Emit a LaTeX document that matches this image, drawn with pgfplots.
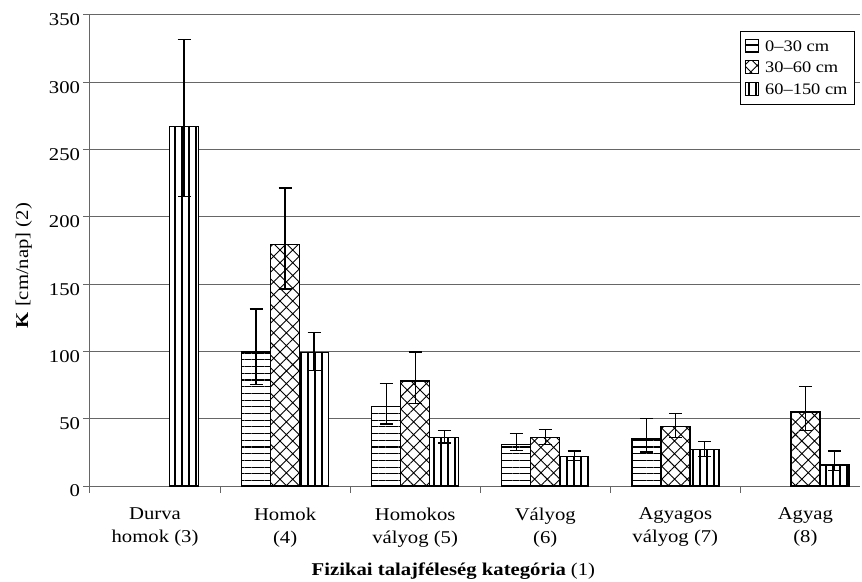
\documentclass[border=0pt]{standalone}
\usepackage{fontspec}
\setmainfont{Liberation Serif}[FakeStretch=1.15]
\usepackage{pgfplots}
\pgfplotsset{compat=1.18}
\usetikzlibrary{patterns.meta}

\pgfplotsset{
  errs/.style={
    error bars/.cd, y dir=both, y explicit,
    error bar style={draw=black, line width=1.3pt, solid},
    error mark options={rotate=90, mark size=6.5pt, line width=1.3pt, draw=black},
  },
}

\begin{document}
\begin{tikzpicture}
\begin{axis}[
  scale only axis,
  width=770pt, height=471pt,
  ybar,
  bar width=0.223,
  xmin=-0.5, xmax=5.42,
  ymin=0, ymax=350,
  ytick={0,50,...,350},
  axis x line=bottom, axis y line=left,
  axis line style={draw=black!60, line width=1pt, -},
  ymajorgrids,
  grid style={draw=black!60, line width=1pt},
  tick align=outside,
  major tick length=6.5pt,
  tick style={draw=black!60, line width=1pt},
  xtick={-0.5,0.5,...,4.5},
  xticklabels={},
  extra x ticks={0,1,2,3,4,5},
  extra x tick labels={{Durva\\homok (3)},{Homok\\(4)},{Homokos\\vályog (5)},{Vályog\\(6)},{Agyagos\\vályog (7)},{Agyag\\(8)}},
  extra x tick style={major tick length=0pt, grid=none},
  xticklabel style={align=center, font=\fontsize{18}{23}\selectfont, yshift=-18pt},
  yticklabel style={font=\fontsize{18}{20}\selectfont, yshift=-5pt},
  /pgf/number format/assume math mode=true,
  xlabel={\textbf{Fizikai talajféleség kategória} (1)},
  xlabel style={at={(axis description cs:0.472,0)}, anchor=center, yshift=-85pt, font=\fontsize{18}{20}\selectfont},
  ylabel={\textbf{K} [cm/nap] (2)},
  ylabel style={at={(axis description cs:-0.086,0.468)}, anchor=center, font=\fontsize{18}{20}\selectfont},
  legend image code/.code={\draw[#1, line width=1pt] (0pt,-5.5pt) rectangle (13pt,7.5pt); \path (17pt,0pt);},
  legend style={at={(axis description cs:0.9935,0.966)}, anchor=north east,
    draw=black, line width=1pt, fill=white, font=\fontsize{16}{18}\selectfont,
    row sep=5.5pt, inner xsep=5pt, inner ysep=7pt},
  legend cell align=left,
]

% 0-30 cm
\addplot[draw=black, line width=1.4pt, fill=white,
  postaction={pattern={Lines[angle=0, distance=6.7pt, line width=1.1pt]}},
  bar shift=-0.223, errs] coordinates {
  (1,99.5) += (0,32) -= (0,24)
  (2,59) += (0,17) -= (0,13)
  (3,31) += (0,8) -= (0,4.5)
  (4,35) += (0,15) -= (0,9.7)
};

% 30-60 cm
\addplot[draw=black, line width=1.4pt, fill=white,
  postaction={pattern={Hatch[angle=45, distance=9pt, line width=0.9pt]}},
  bar shift=0, errs] coordinates {
  (1,179.5) += (0,42) -= (0,33)
  (2,78) += (0,21.6) -= (0,16.5)
  (3,36) += (0,6) -= (0,5)
  (4,44) += (0,10) -= (0,8)
  (5,55) += (0,19) -= (0,14)
};

% 60-150 cm
\addplot[draw=black, line width=1.4pt, fill=white,
  postaction={pattern={Lines[angle=90, distance=7pt, line width=1.2pt]}},
  bar shift=0.223, errs] coordinates {
  (0,267) += (0,65) -= (0,52)
  (1,99) += (0,15) -= (0,13)
  (2,36) += (0,5) -= (0,4)
  (3,21.7) += (0,4.3) -= (0,3)
  (4,27) += (0,6) -= (0,5.2)
  (5,15.6) += (0,10.4) -= (0,4)
};

\legend{0--30 cm, 30--60 cm, 60--150 cm}
\end{axis}
\pgfresetboundingbox
\path (-90pt,-95pt) rectangle (772pt,486pt);
\end{tikzpicture}
\end{document}
